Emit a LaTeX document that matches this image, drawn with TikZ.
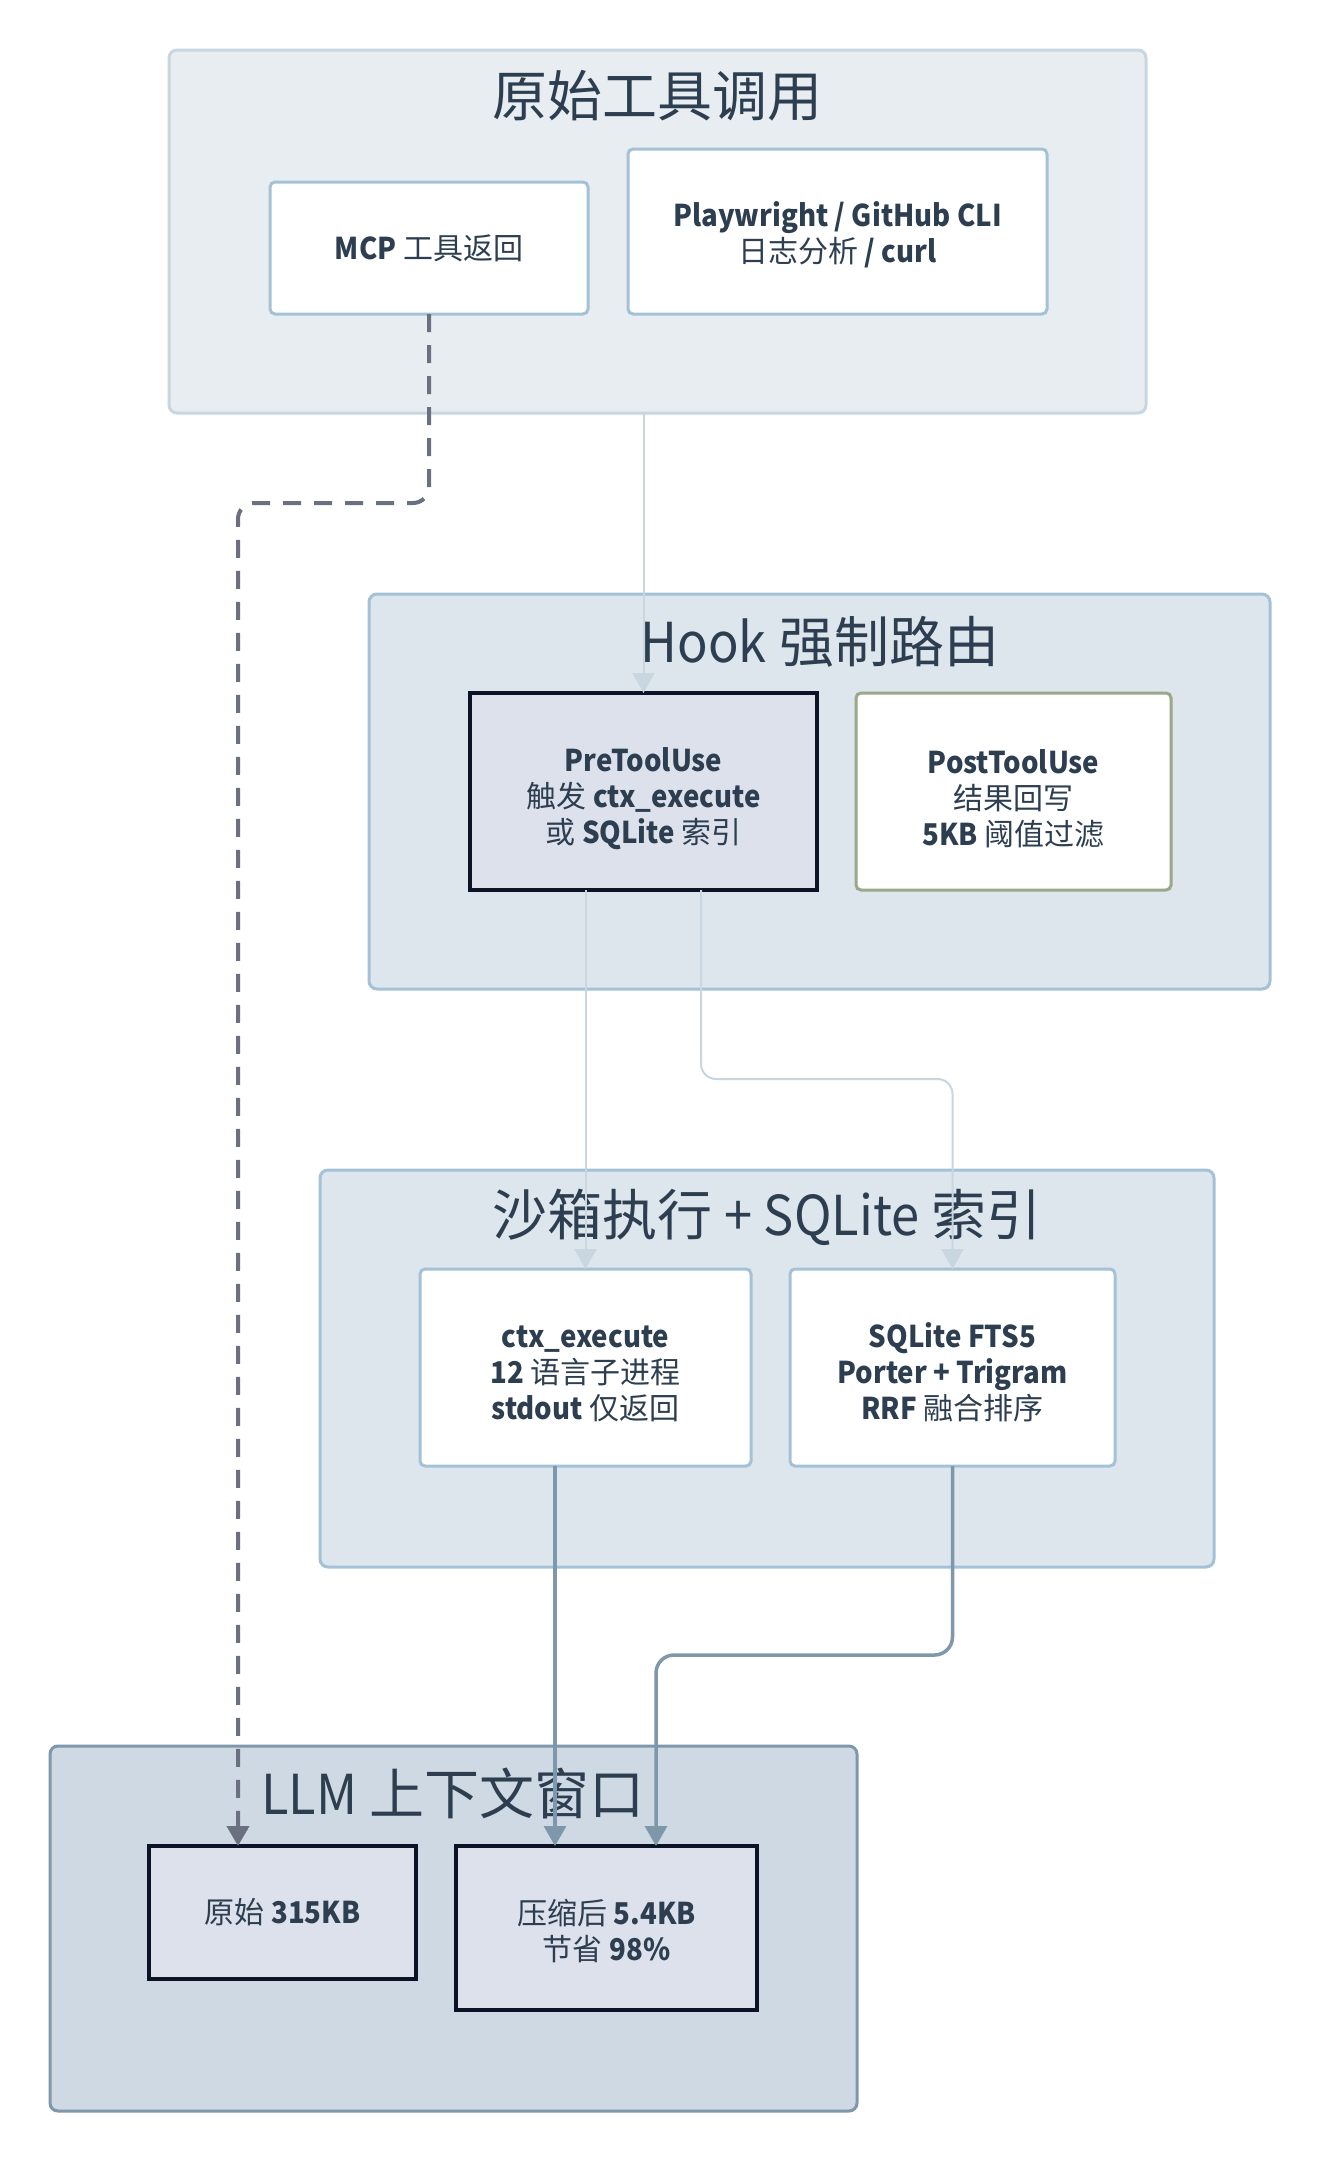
\documentclass[tikz,border=0pt]{standalone}
\usepackage{fontspec}
\setmainfont{Noto Sans CJK SC}
\newfontfamily\latf{Noto Sans CJK SC}[FakeStretch=0.92]
\newcommand{\mylb}[1]{{\latf\bfseries #1}}
\newcommand{\mylr}[1]{{\latf #1}}
\newcommand{\mystrut}[1]{\rule{0pt}{#1}}
\usetikzlibrary{arrows.meta}
\definecolor{txt}{HTML}{2D3E50}
\definecolor{c1fill}{HTML}{E8EDF2}
\definecolor{c1line}{HTML}{C9D6E0}
\definecolor{c2fill}{HTML}{DDE5ED}
\definecolor{c2line}{HTML}{A3C2D6}
\definecolor{c4fill}{HTML}{CFD9E3}
\definecolor{c4line}{HTML}{7F97AB}
\definecolor{darkfill}{HTML}{DDE1EC}
\definecolor{darkline}{HTML}{0D1326}
\definecolor{oliveline}{HTML}{9AA88A}
\definecolor{dashcol}{HTML}{6B7080}
\definecolor{lightedge}{HTML}{C8D6E0}
\tikzset{
  cluster/.style={draw, line width=3pt, rounded corners=8pt, anchor=north west, inner sep=0pt, outer sep=0pt},
  ctitle/.style={text=txt, font=\fontsize{55}{60}\selectfont, inner sep=0pt},
  whitebox/.style={draw=c2line, fill=white, line width=3pt, rounded corners=5pt, anchor=north west, inner sep=0pt, outer sep=0pt, text=txt, align=center, font=\fontsize{30}{36}\selectfont},
  darkbox/.style={draw=darkline, fill=darkfill, line width=4pt, anchor=north west, inner sep=0pt, outer sep=0pt, text=txt, align=center, font=\fontsize{30}{36}\selectfont},
  oldbox/.style={whitebox, draw=oliveline},
  lightarrow/.style={draw=lightedge, line width=2pt, rounded corners=15pt, -{Triangle[width=22pt,length=20pt]}},
  dasharrow/.style={draw=dashcol, line width=4pt, dash pattern=on 18pt off 13pt, rounded corners=16pt, -{Triangle[width=22pt,length=20pt]}},
  solidarrow/.style={draw=c4line, line width=3.5pt, rounded corners=18pt, -{Triangle[width=22pt,length=20pt]}},
}
\begin{document}
\begin{tikzpicture}[x=1pt,y=-1pt]
\useasboundingbox (0,0) rectangle (1320,2160);
\fill[white] (0,0) rectangle (1320,2160);
% clusters
\node[cluster, draw=c1line, fill=c1fill, minimum width=977pt, minimum height=363pt] (c1) at (169,50) {};
\node[ctitle] (t1) at (657,96) {原始工具调用};
\node[cluster, draw=c2line, fill=c2fill, minimum width=901pt, minimum height=395pt] (c2) at (369,594) {};
\node[ctitle] (t2) at (820,642) {\mylr{Hook} 强制路由};
\node[cluster, draw=c2line, fill=c2fill, minimum width=894pt, minimum height=397pt] (c3) at (320,1170) {};
\node[ctitle] (t3) at (767,1217) {沙箱执行 \mylr{+ SQLite} 索引};
\node[cluster, draw=c4line, fill=c4fill, minimum width=807pt, minimum height=365pt] (c4) at (50,1746) {};
\node[ctitle] (t4) at (453,1793) {\mylr{LLM} 上下文窗口};
% nodes
\node[whitebox, minimum width=318pt, minimum height=132pt] (mcp) at (270,182) {\mylb{MCP} 工具返回};
\node[whitebox, minimum width=419pt, minimum height=165pt] (pw) at (628,149) {\mystrut{32pt}\mylb{Playwright / GitHub CLI}\\日志分析 \mylb{/ curl}};
\node[darkbox, minimum width=347pt, minimum height=197pt] (pre) at (470,693) {\mystrut{38pt}\mylb{PreToolUse}\\触发 \mylb{ctx\_execute}\\或 \mylb{SQLite} 索引};
\node[oldbox, minimum width=315pt, minimum height=197pt] (post) at (856,693) {\mystrut{38pt}\mylb{PostToolUse}\\结果回写\\\mylb{5KB} 阈值过滤};
\node[whitebox, minimum width=331pt, minimum height=197pt] (ctx) at (420,1269) {\mystrut{34pt}\mylb{ctx\_execute}\\\mylb{12} 语言子进程\\\mylb{stdout} 仅返回};
\node[whitebox, minimum width=325pt, minimum height=197pt] (fts) at (790,1269) {\mystrut{34pt}\mylb{SQLite FTS5}\\\mylb{Porter + Trigram}\\\mylb{RRF} 融合排序};
\node[darkbox, minimum width=267pt, minimum height=133pt] (raw) at (149,1846) {原始 \mylb{315KB}};
\node[darkbox, minimum width=301pt, minimum height=164pt] (comp) at (456,1846) {\mystrut{32pt}压缩后 \mylb{5.4KB}\\节省 \mylb{98\%}};
% helper coordinates
\coordinate (d1) at (238,503);
\coordinate (p2) at (701,1079);
\coordinate (c5) at (555,0);
\coordinate (s2) at (656,1655);
% edges
\draw[lightarrow] (pre.north |- c1.south) -- (pre.north);
\draw[lightarrow] (ctx.north |- pre.south) -- (ctx.north);
\draw[lightarrow] (p2 |- pre.south) -- (p2) -| (fts.north);
\draw[dasharrow] (mcp.south) |- (d1) -- (d1 |- raw.north);
\draw[solidarrow] (c5 |- ctx.south) -- (c5 |- comp.north);
\draw[solidarrow] (fts.south) |- (s2) -- (s2 |- comp.north);
\end{tikzpicture}
\end{document}
